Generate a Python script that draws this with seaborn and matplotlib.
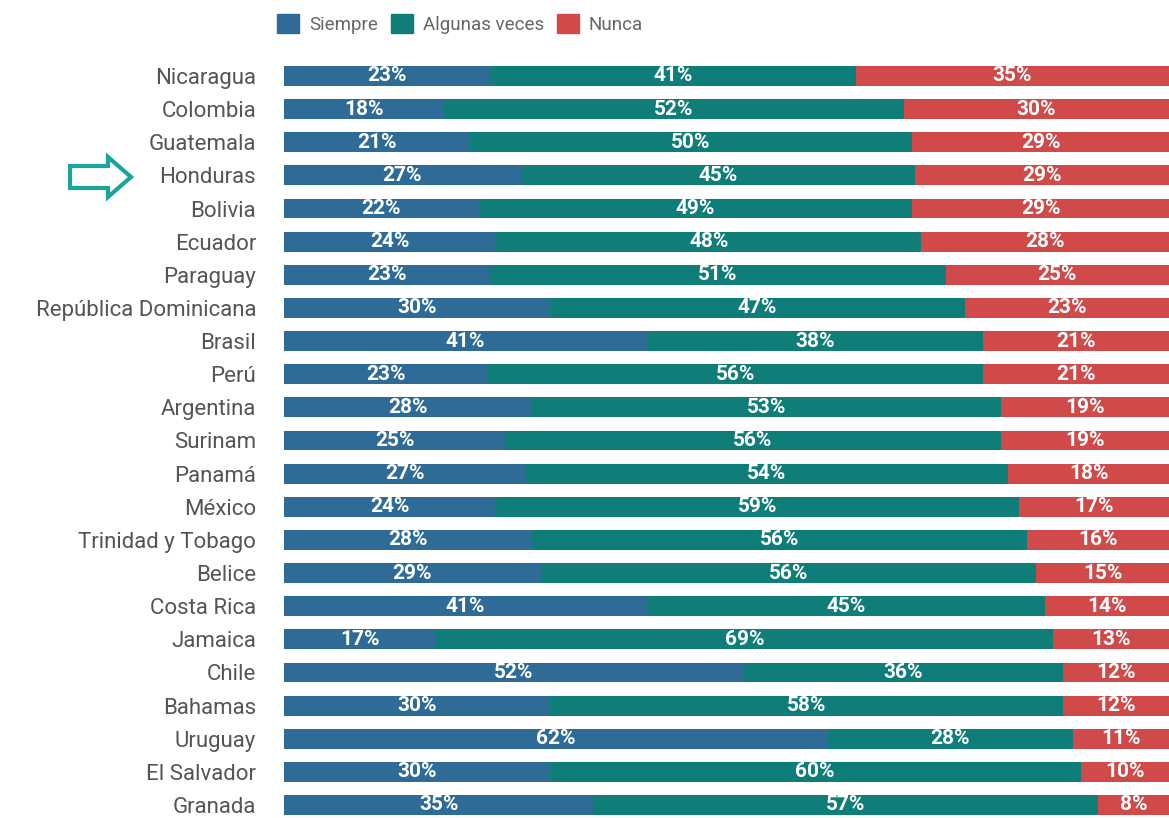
import numpy as np
import pandas as pd
import seaborn as sns
import matplotlib.pyplot as plt
import matplotlib.patches as mpatches

paises = ['Nicaragua', 'Colombia', 'Guatemala', 'Honduras', 'Bolivia', 'Ecuador', 'Paraguay',
          'República Dominicana', 'Brasil', 'Perú', 'Argentina', 'Surinam', 'Panamá', 'México',
          'Trinidad y Tobago', 'Belice', 'Costa Rica', 'Jamaica', 'Chile', 'Bahamas', 'Uruguay',
          'El Salvador', 'Granada']
siempre = [23, 18, 21, 27, 22, 24, 23, 30, 41, 23, 28, 25, 27, 24, 28, 29, 41, 17, 52, 30, 62, 30, 35]
algunas = [41, 52, 50, 45, 49, 48, 51, 47, 38, 56, 53, 56, 54, 59, 56, 56, 45, 69, 36, 58, 28, 60, 57]
nunca = [35, 30, 29, 29, 29, 28, 25, 23, 21, 21, 19, 19, 18, 17, 16, 15, 14, 13, 12, 12, 11, 10, 8]

c_siempre = '#2e6b96'
c_algunas = '#0f7d78'
c_nunca = '#cf4a48'

sns.set_style('white')
plt.rcParams['font.family'] = ['Roboto', 'DejaVu Sans']

df = pd.DataFrame({'pais': paises, 'siempre': siempre, 'algunas': algunas, 'nunca': nunca})
total = df[['siempre', 'algunas', 'nunca']].sum(axis=1)
df['s_n'] = df['siempre'] / total * 100
df['a_n'] = df['algunas'] / total * 100
df['cum2'] = df['s_n'] + df['a_n']
df['cum3'] = 100.0

fig = plt.figure(figsize=(11.69, 8.18), dpi=100)
ax = fig.add_axes([284 / 1169, 0, 1 - 284 / 1169, 1])

# stacked look: draw cumulative totals from the back
for col, c in [('cum3', c_nunca), ('cum2', c_algunas), ('s_n', c_siempre)]:
    sns.barplot(data=df, y='pais', x=col, color=c, orient='h', width=0.6, saturation=1,
                linewidth=0, ax=ax)

for i, r in df.iterrows():
    segs = [(0, r['s_n'], r['siempre']), (r['s_n'], r['cum2'], r['algunas']), (r['cum2'], 100, r['nunca'])]
    for a, b, v in segs:
        ax.text((a + b) / 2, i, f'{v}%', color='white', fontsize=15, fontweight='bold',
                ha='center', va='center')

ax.set_xlim(0, 100)
step = (805 - 76) / 22
ax.set_ylim((818 - 76) / step, -76 / step)
ax.set_xlabel('')
ax.set_ylabel('')
ax.set_xticks([])
ax.tick_params(axis='y', length=0, pad=20, labelsize=16, labelcolor='#555555')
sns.despine(ax=ax, left=True, bottom=True)

handles = [mpatches.Patch(color=c_siempre, label='Siempre'),
           mpatches.Patch(color=c_algunas, label='Algunas veces'),
           mpatches.Patch(color=c_nunca, label='Nunca')]
fig.legend(handles=handles, loc='center', bbox_to_anchor=(460 / 1169, 1 - 24 / 818), ncol=3,
           frameon=False, fontsize=13.5, labelcolor='#666666', handlelength=1.2, handleheight=1.2,
           handletextpad=0.5, columnspacing=0.7)

# arrow pointing at Honduras
pts = [(70, 166), (108, 166), (108, 157), (131, 177), (108, 197), (108, 188), (70, 188)]
pts = [(x / 1169, 1 - y / 818) for x, y in pts]
fig.patches.append(mpatches.Polygon(pts, closed=True, fill=False, edgecolor='#1aa59a', linewidth=3,
                                    joinstyle='miter', transform=fig.transFigure))

fig.savefig('out.png', dpi=100)
